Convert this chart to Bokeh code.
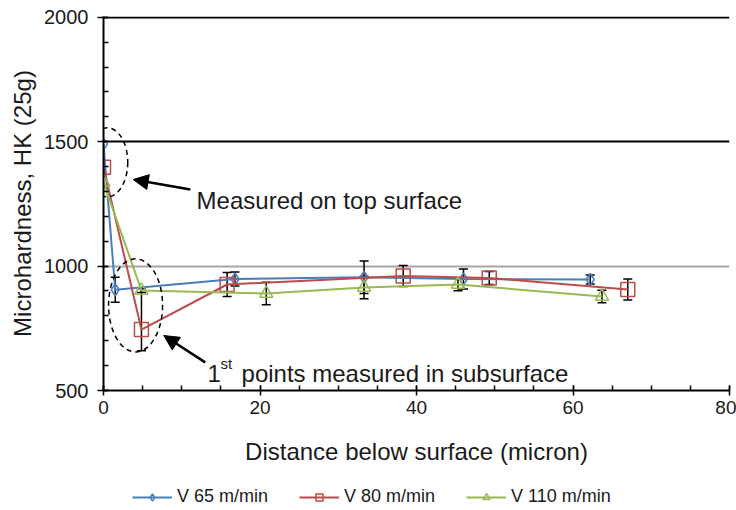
from bokeh.plotting import figure
from bokeh.layouts import column
from bokeh.models import (Range1d, FixedTicker, Grid, Whisker, TeeHead, ColumnDataSource,
                          Legend, LegendItem, Arrow, NormalHead)
from bokeh.core.properties import value
from bokeh.embed import file_html
from bokeh.resources import INLINE

# ---------------- data ----------------
x_ticks = [0, 20, 40, 60, 80]
x_minor = list(range(0, 81, 5))
y_ticks = [500, 1000, 1500, 2000]
y_minor = list(range(500, 2001, 100))

labels = ["V 65 m/min", "V 80 m/min", "V 110 m/min"]

x_v65 = [0, 1.5, 16.8, 33.3, 46.0, 62.2]
hk_v65 = [1490, 905, 948, 955, 948, 946]
err_lo_v65 = [0, 50, 28, 65, 40, 18]
err_hi_v65 = [0, 50, 28, 65, 40, 18]

x_v80 = [0, 4.85, 15.8, 38.3, 49.3, 67.0]
hk_v80 = [1397, 745, 926, 960, 952, 906]
err_lo_v80 = [0, 85, 48, 42, 26, 42]
err_hi_v80 = [0, 165, 48, 42, 26, 42]

x_v110 = [0, 4.85, 20.8, 33.3, 45.3, 63.7]
hk_v110 = [1336, 902, 890, 914, 926, 878]
err_lo_v110 = [0, 8, 45, 45, 25, 25]
err_hi_v110 = [0, 8, 45, 45, 25, 25]

colors = ["#4A7EBB", "#BE4B48", "#98B954"]
markers = ["diamond", "square", "triangle"]
marker_sizes = [12, 14, 13]

FONT = "Liberation Sans"
TXT = "#1a1a1a"

p = figure(width=736, height=478, output_backend="svg", toolbar_location=None,
           x_range=Range1d(0, 80), y_range=Range1d(500, 2003),
           min_border_left=103, min_border_right=7, min_border_top=16, min_border_bottom=88)
p.outline_line_color = None
p.background_fill_color = "white"

# axes
p.xaxis.ticker = FixedTicker(ticks=x_ticks, minor_ticks=x_minor)
p.yaxis.ticker = FixedTicker(ticks=y_ticks, minor_ticks=y_minor)
for ax in (p.xaxis[0], p.yaxis[0]):
    ax.axis_line_color = "black"
    ax.axis_line_width = 2
    ax.major_tick_line_color = "black"
    ax.major_tick_line_width = 1.5
    ax.minor_tick_line_color = "black"
    ax.minor_tick_line_width = 1.5
    ax.major_label_text_font = FONT
    ax.major_label_text_color = TXT
    ax.axis_label_text_font = FONT
    ax.axis_label_text_font_style = "normal"
    ax.axis_label_text_color = TXT

p.xaxis.axis_label = "Distance below surface (micron)"
p.xaxis.axis_label_text_font_size = "24px"
p.xaxis.major_tick_in = 5
p.xaxis.major_tick_out = 5
p.xaxis.minor_tick_in = 5
p.xaxis.minor_tick_out = 0
p.xaxis.major_label_text_font_size = "19px"
p.xaxis.major_label_standoff = 5
p.xaxis.axis_label_standoff = 21

p.yaxis.axis_label = "Microhardness, HK (25g)"
p.yaxis.axis_label_text_font_size = "24px"
p.yaxis.major_tick_in = 4
p.yaxis.major_tick_out = 6
p.yaxis.minor_tick_in = 5
p.yaxis.minor_tick_out = 0
p.yaxis.major_label_text_font_size = "20px"
p.yaxis.major_label_standoff = 9
p.yaxis.axis_label_standoff = 5

# grids
p.xgrid.visible = False
p.ygrid.ticker = FixedTicker(ticks=[1000])
p.ygrid.grid_line_color = "#A6A6A6"
p.ygrid.grid_line_width = 2
p.add_layout(Grid(dimension=1, ticker=FixedTicker(ticks=[1500, 2000]),
                  grid_line_color="black", grid_line_width=2))

# legend strip (separate small figure below the chart; its ranges hide the proxy glyphs)
lg = figure(width=736, height=32, output_backend="svg", toolbar_location=None,
            x_axis_type=None, y_axis_type=None, min_border=0,
            x_range=Range1d(0, 1), y_range=Range1d(0, 1))
lg.outline_line_color = None
lg.xgrid.visible = False
lg.ygrid.visible = False

# series
series = [
    (x_v65, hk_v65, err_lo_v65, err_hi_v65),
    (x_v80, hk_v80, err_lo_v80, err_hi_v80),
    (x_v110, hk_v110, err_lo_v110, err_hi_v110),
]
items = []
for (xs, ys, elo, ehi), col, mk, ms, lab in zip(series, colors, markers, marker_sizes, labels):
    p.line(xs, ys, line_color=col, line_width=2)
    bx = [x for x, lo, hi in zip(xs, elo, ehi) if lo + hi > 0]
    blo = [y - lo for y, lo, hi in zip(ys, elo, ehi) if lo + hi > 0]
    bhi = [y + hi for y, lo, hi in zip(ys, elo, ehi) if lo + hi > 0]
    src = ColumnDataSource(dict(base=bx, lower=blo, upper=bhi))
    w = Whisker(base="base", lower="lower", upper="upper", source=src,
                line_color="black", line_width=1.5,
                upper_head=TeeHead(size=9, line_color="black", line_width=1.5),
                lower_head=TeeHead(size=9, line_color="black", line_width=1.5))
    p.add_layout(w)
    p.scatter(xs, ys, marker=mk, size=ms, line_color=col, line_width=1.5, fill_color=None)
    # legend proxies: same series, outside the strip's visible range
    l2 = lg.line(xs, ys, line_color=col, line_width=1.8)
    s2 = lg.scatter(xs, ys, marker=mk, size=ms, line_color=col, line_width=1.5,
                    fill_color=None)
    items.append(LegendItem(label=lab, renderers=[l2, s2]))

# annotations
p.ellipse(x=[0.5], y=[1417], width=[5.2], height=[277], fill_color=None,
          line_color="black", line_dash="5 4", line_width=1.5)
p.ellipse(x=[4.1], y=[842], width=[6.9], height=[374], fill_color=None,
          line_color="black", line_dash="5 4", line_width=1.5)

p.add_layout(Arrow(end=NormalHead(size=15, fill_color="black", line_color="black"),
                   x_start=11.1, y_start=1308, x_end=3.8, y_end=1348,
                   line_color="black", line_width=2.5))
p.add_layout(Arrow(end=NormalHead(size=15, fill_color="black", line_color="black"),
                   x_start=13.0, y_start=613, x_end=7.7, y_end=721,
                   line_color="black", line_width=2.5))

p.text(x=[11.9], y=[1264], text=["Measured on top surface"], text_font=value(FONT),
       text_font_size="24px", text_baseline="alphabetic", text_align="left", text_color=TXT)
p.text(x=[13.3], y=[568], text=["1"], text_font=value(FONT),
       text_font_size="24px", text_baseline="alphabetic", text_align="left", text_color=TXT)
p.text(x=[13.3], y=[568], text=["st"], text_font=value(FONT), x_offset=13, y_offset=-10,
       text_font_size="15px", text_baseline="alphabetic", text_align="left", text_color=TXT)
p.text(x=[13.3], y=[568], text=["points measured in subsurface"], text_font=value(FONT),
       x_offset=34, text_font_size="24px", text_baseline="alphabetic", text_align="left",
       text_color=TXT)

legend = Legend(items=items, orientation="horizontal", location=(29, 3),
                label_text_font=FONT, label_text_font_size="18px", label_text_color=TXT,
                glyph_width=40, glyph_height=18, label_height=18, label_standoff=5,
                spacing=31, padding=0, margin=0, border_line_color=None,
                background_fill_alpha=0)
lg.add_layout(legend)

layout = column(p, lg, spacing=0)
open("out.html", "w").write(file_html(layout, INLINE))
